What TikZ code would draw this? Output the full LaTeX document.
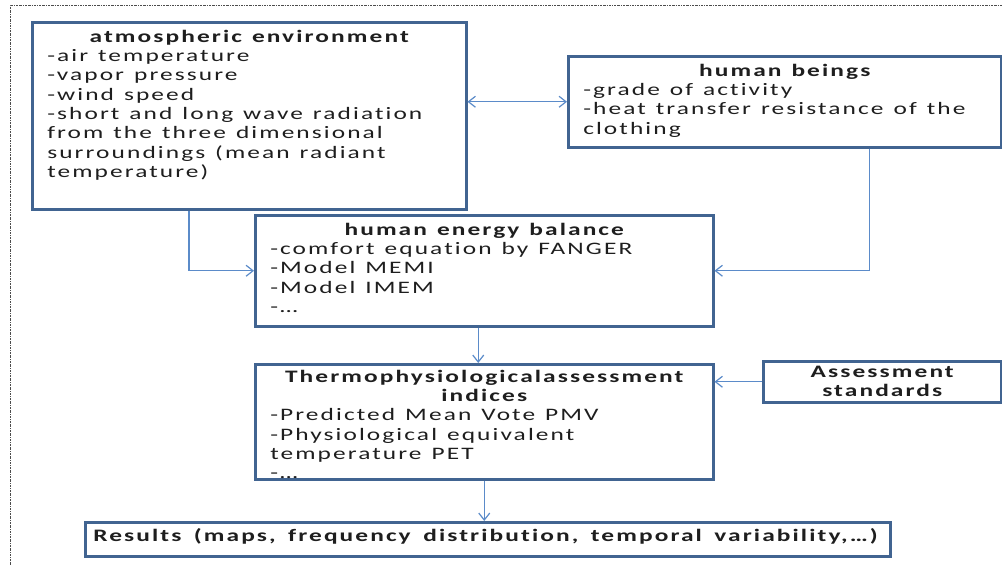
\documentclass[tikz,border=0pt]{standalone}
\usepackage{fontspec}
\setmainfont{Carlito}[FakeStretch=1.45,LetterSpace=12,Ligatures=CommonOff]
\usetikzlibrary{arrows.meta,positioning,calc}
\definecolor{boxblue}{RGB}{65,100,145}
\definecolor{linkblue}{RGB}{91,139,201}
\definecolor{txtgray}{RGB}{30,30,30}
\newcommand{\wordgap}{10pt}
\newcommand{\boxspacing}{\spaceskip=\wordgap plus 2pt minus 1pt\relax}
\tikzset{
  infobox/.style={draw=boxblue, line width=2.5pt, anchor=north west, align=left,
    inner xsep=15pt, inner ysep=6pt, text height=14pt, text=txtgray,
    font=\fontsize{17.5}{19.3}\selectfont, execute at begin node=\boxspacing},
  link/.style={linkblue, line width=1.2pt, -{Straight Barb[length=7pt,width=11pt]}},
}
\newcommand{\boxhead}[1]{{\centering\bfseries #1\par}}

\begin{document}
\begin{tikzpicture}[x=1pt,y=-1pt]
    \useasboundingbox (0,0) rectangle (1002,566);
    % dotted frame
    \draw[gray!60!black, line width=0.8pt, dash pattern=on 2pt off 1pt on 0.6pt off 1pt]
        (1002,5) -- (10,5) -- (10,566);

    \node[infobox, text width=404pt, text depth=161pt] (atmos) at (31,21)
        {\boxhead{atmospheric environment}
         -air temperature\\
         -vapor pressure\\
         -wind speed\\
         -short and long wave radiation\\
         from the three dimensional\\
         surroundings (mean radiant\\
         temperature)};
    \node[infobox, text width=403pt, text depth=65pt] (human) at (567,55)
        {\boxhead{human beings}
         -grade of activity\\
         -heat transfer resistance of the\\
         clothing};
    \node[infobox, text width=428pt, text depth=85pt] (energy) at (254,214)
        {\boxhead{human energy balance}
         -comfort equation by FANGER\\
         -Model MEMI\\
         -Model IMEM\\
         -…};
    \node[infobox, text width=428pt, text depth=93pt, inner ysep=4pt] (thermo) at (254,363)
        {\boxhead{\mbox{Thermophysiological\hspace{2pt}assessment}\\indices}
         -Predicted Mean Vote PMV\\
         -Physiological equivalent\\
         temperature PET\\
         -…};
    \node[infobox, text width=208pt, text depth=22pt, inner ysep=3pt, text height=13pt] (assess) at (762,360)
        {\boxhead{Assessment\\standards}};
    \node[infobox, text width=789pt, text depth=10pt, inner xsep=8pt, inner ysep=5pt,
          font=\fontsize{17.5}{19.3}\selectfont\bfseries, execute at begin node={\renewcommand{\wordgap}{12.5pt}\boxspacing}] (results) at (84,521)
        {Results (maps, frequency distribution, temporal variability,…)};

    % connectors
    \draw[link, {Straight Barb[length=7pt,width=11pt]}-{Straight Barb[length=7pt,width=11pt]}]
        (atmos.east |- human.west) -- (human.west);
    \draw[link] ([xshift=158pt]atmos.south west) |- (energy.west);
    \draw[link] ([xshift=-133pt]human.south east) |- (energy.east);
    \draw[link] ([xshift=-6pt]energy.south) -- ([xshift=-6pt]energy.south |- thermo.north);
    \draw[link] (assess.west) -- (assess.west -| thermo.east);
    \draw[link] (thermo.south) -- (thermo.south |- results.north);
\end{tikzpicture}
\end{document}
